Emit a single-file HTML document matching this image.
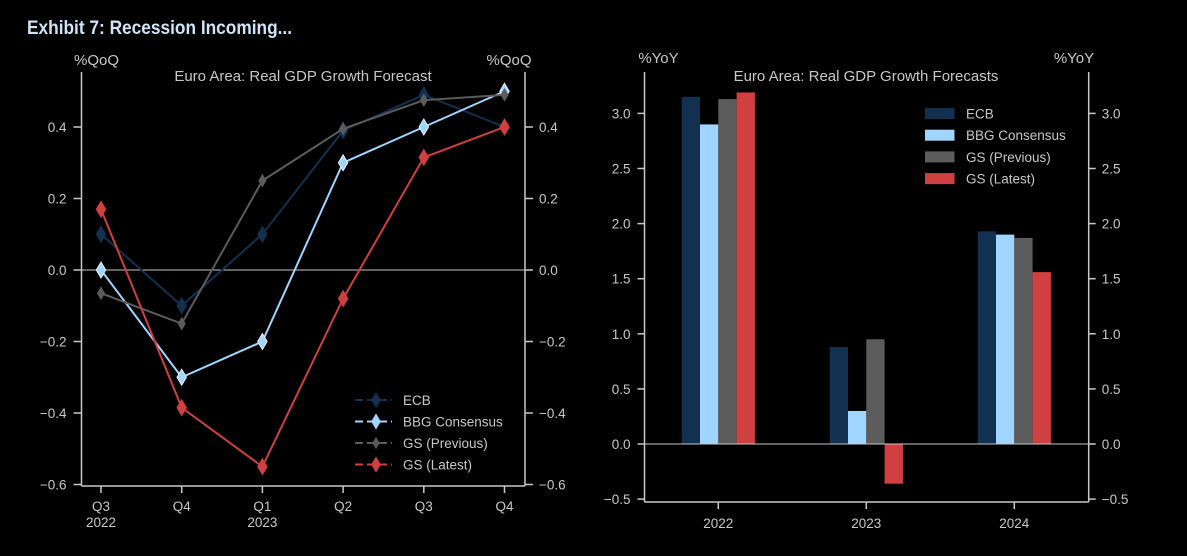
<!DOCTYPE html>
<html><head><meta charset="utf-8"><style>
html,body{margin:0;padding:0;background:#000;}
svg{display:block;font-family:"Liberation Sans",sans-serif;}
</style></head><body>
<svg id="c" width="1187" height="556" viewBox="0 0 1187 556">
<rect width="1187" height="556" fill="#000"/>
<text x="27" y="34" fill="#cfe4f7" font-size="19" font-weight="bold" transform="translate(27,0) scale(0.91,1) translate(-27,0)">Exhibit 7: Recession Incoming...</text>
<g id="left"></g>
<g id="right"></g>
</svg>
<script>
const quarters = ["Q3","Q4","Q1","Q2","Q3","Q4"];
const quarterYears = ["2022","","2023","","",""];
const ecbQ = [0.1,-0.1,0.1,0.39,0.49,0.4];
const bbgQ = [0.0,-0.3,-0.2,0.3,0.4,0.5];
const gsPrevQ = [-0.065,-0.15,0.25,0.395,0.475,0.49];
const gsLatestQ = [0.17,-0.385,-0.55,-0.08,0.315,0.4];
const qTicks = [-0.6,-0.4,-0.2,0.0,0.2,0.4];
const years = ["2022","2023","2024"];
const ecbY = [3.15,0.88,1.93];
const bbgY = [2.90,0.30,1.90];
const gsPrevY = [3.13,0.95,1.87];
const gsLatestY = [3.19,-0.36,1.56];
const yTicks = [-0.5,0.0,0.5,1.0,1.5,2.0,2.5,3.0];
const seriesNames = ["ECB","BBG Consensus","GS (Previous)","GS (Latest)"];
const colors = ["#12304f","#9fd5ff","#5c5c5c","#d04040"];

const NS="http://www.w3.org/2000/svg";
function el(tag,attrs,parent,text){const e=document.createElementNS(NS,tag);for(const k in attrs)e.setAttribute(k,attrs[k]);if(text!==undefined)e.textContent=text;parent.appendChild(e);return e;}
const AX="#c8c8c8", TX="#c8c8c8", FS=13.5;

// ---------- Left line chart ----------
const L=document.getElementById('left');
const lx0=81.5, lx1=525, ly0=270, lyScale=357.5;
const ly=v=>ly0-v*lyScale;
const lxPos=i=>101+i*80.7;
let a;
a=el('line',{x1:lx0,y1:72,x2:lx0,y2:486,stroke:AX,'stroke-width':1.5},L);

a=el('line',{x1:lx1,y1:72,x2:lx1,y2:486,stroke:AX,'stroke-width':1.5},L);

a=el('line',{x1:lx0,y1:486,x2:lx1,y2:486,stroke:AX,'stroke-width':1.5},L);

a=el('line',{x1:lx0,y1:ly(0),x2:lx1,y2:ly(0),stroke:AX,'stroke-width':1},L);

qTicks.forEach(t=>{
  const y=ly(t);
  el('line',{x1:lx0-8,y1:y,x2:lx0,y2:y,stroke:AX,'stroke-width':1.5},L);
  el('line',{x1:lx1,y1:y,x2:lx1+8,y2:y,stroke:AX,'stroke-width':1.5},L);
  const lab=t<0?'\u2212'+Math.abs(t).toFixed(1):t.toFixed(1);
  let tl=el('text',{x:lx0-15,y:y+5,fill:TX,'font-size':FS,'text-anchor':'end'},L,lab);
  
  let tr=el('text',{x:lx1+14,y:y+5,fill:TX,'font-size':FS},L,lab);
  
});
quarters.forEach((q,i)=>{
  const x=lxPos(i);
  el('line',{x1:x,y1:486,x2:x,y2:493,stroke:AX,'stroke-width':1.5},L);
  let t=el('text',{x:x,y:511,fill:TX,'font-size':FS,'text-anchor':'middle'},L,q);
  
  if(quarterYears[i]){let t2=el('text',{x:x,y:527,fill:TX,'font-size':FS,'text-anchor':'middle'},L,quarterYears[i]);
  }
});
a=el('text',{x:96.5,y:65,fill:TX,'font-size':15,'text-anchor':'middle'},L,'%QoQ');

a=el('text',{x:509,y:65,fill:TX,'font-size':15,'text-anchor':'middle'},L,'%QoQ');

a=el('text',{x:303,y:81,fill:TX,'font-size':15,'text-anchor':'middle'},L,'Euro Area: Real GDP Growth Forecast');

function diamond(x,y,s){return `M${x},${y-s*1.35} L${x+s*0.8},${y} L${x},${y+s*1.35} L${x-s*0.8},${y} Z`;}
const qSeries=[ecbQ,bbgQ,gsPrevQ,gsLatestQ];
const mSize=[6,6,4.5,6];
qSeries.forEach((s,k)=>{
  const pts=s.map((v,i)=>lxPos(i)+','+ly(v)).join(' ');
  const pl=el('polyline',{points:pts,fill:'none',stroke:colors[k],'stroke-width':2},L);
  
  
  s.forEach((v,i)=>{
    const m=el('path',{d:diamond(lxPos(i),ly(v),mSize[k]),fill:colors[k],stroke:k==1?'#fff':colors[k],'stroke-width':0.8},L);
    
    
  });
});
seriesNames.forEach((n,k)=>{
  const y=400+k*21.5;
  const g=el('g',{},L);
  
  
  el('line',{x1:355,y1:y,x2:392,y2:y,stroke:colors[k],'stroke-width':2,'stroke-dasharray':'8,4'},g);
  el('path',{d:diamond(376,y,mSize[k]),fill:colors[k]},g);
  el('text',{x:403,y:y+5,fill:TX,'font-size':FS},g,n);
});

// ---------- Right bar chart ----------
const R=document.getElementById('right');
const rx0=644.5, rx1=1088.7, ry0=444, ryScale=110.2;
const ry=v=>ry0-v*ryScale;
const gx=i=>718.3+i*148;
const bw=18.3;
a=el('line',{x1:rx0,y1:72,x2:rx0,y2:502,stroke:AX,'stroke-width':1.5},R);

a=el('line',{x1:rx1,y1:72,x2:rx1,y2:502,stroke:AX,'stroke-width':1.5},R);

a=el('line',{x1:rx0,y1:502,x2:rx1,y2:502,stroke:AX,'stroke-width':1.5},R);

yTicks.forEach(t=>{
  const y=ry(t);
  el('line',{x1:rx0-7,y1:y,x2:rx0,y2:y,stroke:AX,'stroke-width':1.5},R);
  el('line',{x1:rx1,y1:y,x2:rx1+7,y2:y,stroke:AX,'stroke-width':1.5},R);
  const lab=t<0?'\u2212'+Math.abs(t).toFixed(1):t.toFixed(1);
  let tl=el('text',{x:rx0-14,y:y+5,fill:TX,'font-size':FS,'text-anchor':'end'},R,lab);
  
  let tr=el('text',{x:rx1+13,y:y+5,fill:TX,'font-size':FS},R,lab);
  
});
const ySeries=[ecbY,bbgY,gsPrevY,gsLatestY];
years.forEach((yr,i)=>{
  const cx=gx(i);
  ySeries.forEach((s,k)=>{
    const v=s[i];
    const x=cx-2*bw+k*bw;
    const r=el('rect',{x:x,y:Math.min(ry(v),ry(0)),width:bw,height:Math.abs(ry(v)-ry(0)),fill:colors[k]},R);
    
    
  });
  el('line',{x1:cx,y1:502,x2:cx,y2:509,stroke:AX,'stroke-width':1.5},R);
  let t=el('text',{x:cx,y:528,fill:TX,'font-size':FS,'text-anchor':'middle'},R,yr);
  
});
a=el('line',{x1:rx0,y1:ry(0),x2:rx1,y2:ry(0),stroke:AX,'stroke-width':1},R);

a=el('text',{x:658.5,y:63,fill:TX,'font-size':15,'text-anchor':'middle'},R,'%YoY');

a=el('text',{x:1074,y:63,fill:TX,'font-size':15,'text-anchor':'middle'},R,'%YoY');

a=el('text',{x:866,y:81,fill:TX,'font-size':15,'text-anchor':'middle'},R,'Euro Area: Real GDP Growth Forecasts');

seriesNames.forEach((n,k)=>{
  const y=113.5+k*21.7;
  const g=el('g',{},R);
  
  
  el('rect',{x:925,y:y-5.5,width:29.5,height:11,fill:colors[k]},g);
  el('text',{x:966,y:y+5,fill:TX,'font-size':FS},g,n);
});
</script>
</body></html>
